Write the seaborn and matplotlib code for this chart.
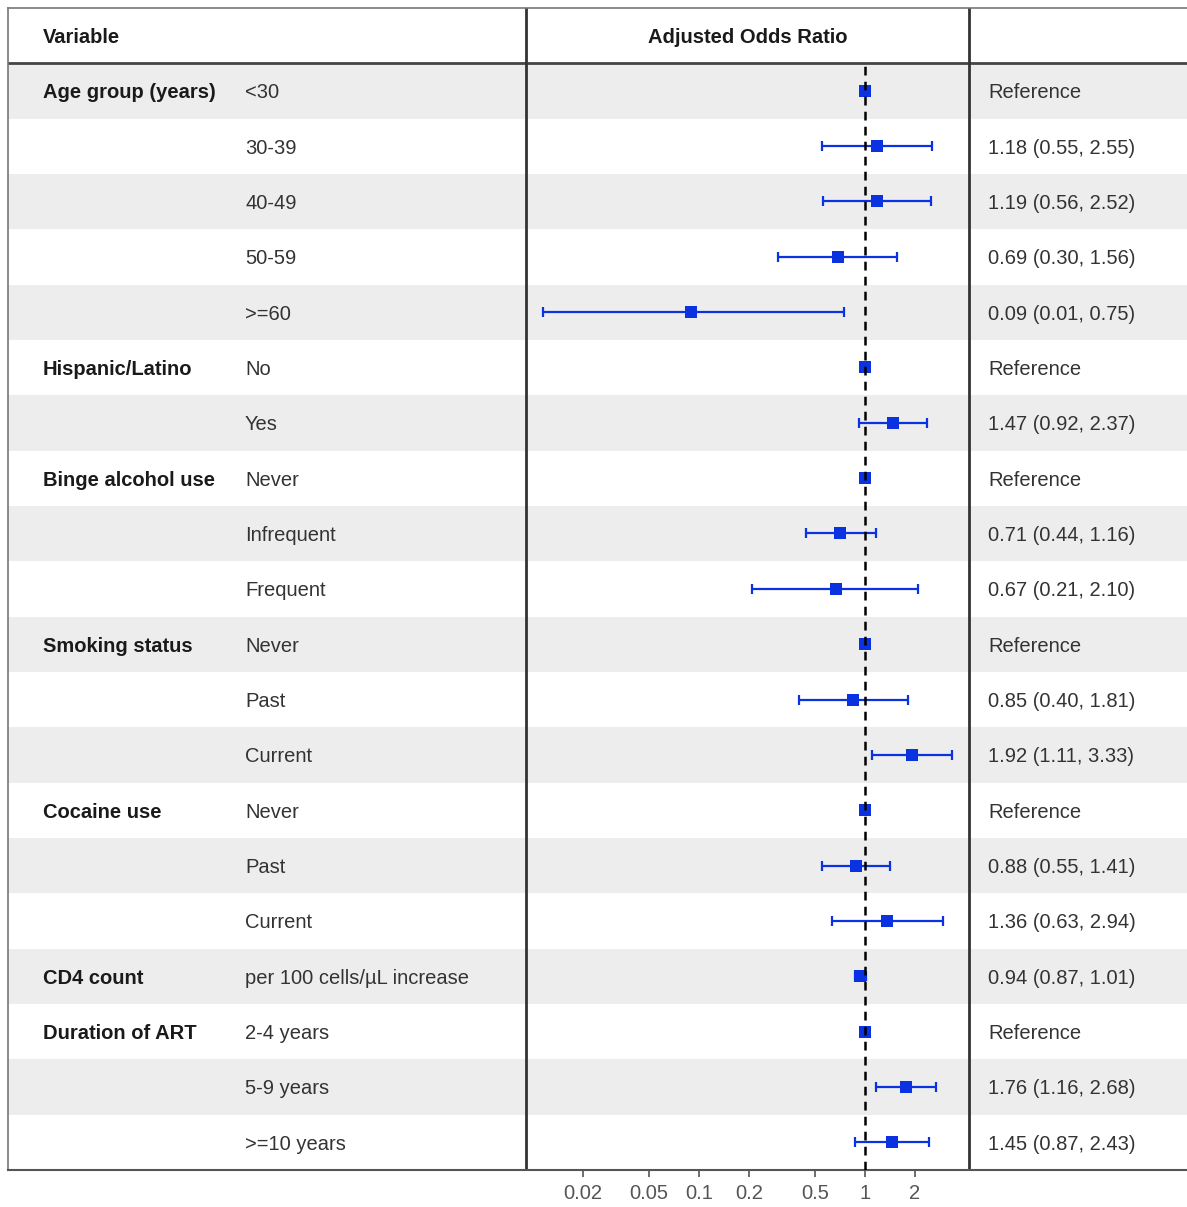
import numpy as np
import pandas as pd
import matplotlib.pyplot as plt
import seaborn as sns

# Data
groups = ['Age group (years)', '', '', '', '',
          'Hispanic/Latino', '',
          'Binge alcohol use', '', '',
          'Smoking status', '', '',
          'Cocaine use', '', '',
          'CD4 count',
          'Duration of ART', '', '']
levels = ['<30', '30-39', '40-49', '50-59', '>=60',
          'No', 'Yes',
          'Never', 'Infrequent', 'Frequent',
          'Never', 'Past', 'Current',
          'Never', 'Past', 'Current',
          'per 100 cells/\u00b5L increase',
          '2-4 years', '5-9 years', '>=10 years']
odds = [np.nan, 1.18, 1.19, 0.69, 0.09,
        np.nan, 1.47,
        np.nan, 0.71, 0.67,
        np.nan, 0.85, 1.92,
        np.nan, 0.88, 1.36,
        0.94,
        np.nan, 1.76, 1.45]
ci_low = [np.nan, 0.55, 0.56, 0.30, 0.0115,
          np.nan, 0.92,
          np.nan, 0.44, 0.21,
          np.nan, 0.40, 1.11,
          np.nan, 0.55, 0.63,
          0.87,
          np.nan, 1.16, 0.87]
ci_high = [np.nan, 2.55, 2.52, 1.56, 0.75,
           np.nan, 2.37,
           np.nan, 1.16, 2.10,
           np.nan, 1.81, 3.33,
           np.nan, 1.41, 2.94,
           1.01,
           np.nan, 2.68, 2.43]
x_ticks = [0.02, 0.05, 0.1, 0.2, 0.5, 1, 2]

df = pd.DataFrame({'group': groups, 'level': levels, 'or': odds,
                   'lo': ci_low, 'hi': ci_high})
df['row'] = np.arange(len(df))
df['is_ref'] = df['or'].isna()
df['point'] = df['or'].fillna(1.0)
df['label'] = [
    'Reference' if r else '{:.2f} ({:.2f}, {:.2f})'.format(o, l, h)
    for r, o, l, h in zip(df['is_ref'], df['or'], df['lo'], df['hi'])
]

sns.set_style('white')
plt.rcParams['font.family'] = ['Liberation Sans', 'DejaVu Sans']
fs = 14.5
blue = '#0A32E0'
txt = '#1a1a1a'

W, H = 1187, 1207
fig = plt.figure(figsize=(W / 100, H / 100), dpi=100)

n = len(df)
top_px, head_px, bot_px = 8, 63, 1170
left_px, mid1_px, mid2_px = 8, 526, 969

# background table axes (x in pixel-like units, y in rows)
bg = fig.add_axes([left_px / W, (H - bot_px) / H, (W - left_px) / W, (bot_px - top_px) / H])
bg.set_xlim(left_px, W)
bg.set_ylim(n - 0.5, -1.5)
for i in range(0, n, 2):
    bg.axhspan(i - 0.5, i + 0.5, color='#EDEDED', lw=0)
for s in ['left', 'top']:
    bg.spines[s].set_color('#777777')
    bg.spines[s].set_linewidth(1.2)
bg.spines['right'].set_visible(False)
bg.spines['bottom'].set_color('#555555')
bg.spines['bottom'].set_linewidth(1.5)
bg.set_xticks([])
bg.set_yticks([])
bg.axhline(-0.5, color='#444444', lw=2)
for xv in [mid1_px, mid2_px]:
    bg.axvline(xv, color='#333333', lw=2)

va = 'center_baseline'
bg.text(43, -1, 'Variable', fontsize=fs, fontweight='bold', color=txt, va=va)
bg.text((mid1_px + mid2_px) / 2, -1, 'Adjusted Odds Ratio', fontsize=fs,
        fontweight='bold', color=txt, va=va, ha='center')
for _, r in df.iterrows():
    if r['group']:
        bg.text(43, r['row'], r['group'], fontsize=fs, fontweight='bold',
                color=txt, va=va)
    bg.text(245, r['row'], r['level'], fontsize=fs, color='#333333', va=va)
    bg.text(988, r['row'], r['label'], fontsize=fs, color='#333333', va=va)

# forest axes
ax = fig.add_axes([mid1_px / W, (H - bot_px) / H, (mid2_px - mid1_px) / W,
                   (bot_px - head_px) / H])
ax.patch.set_alpha(0)
ax.set_xscale('log')

est = df[~df['is_ref']]
ax.errorbar(est['or'], est['row'],
            xerr=[est['or'] - est['lo'], est['hi'] - est['or']],
            fmt='none', ecolor=blue, elinewidth=1.6, capsize=3.5, capthick=1.6,
            zorder=2)
sns.scatterplot(data=df, x='point', y='row', marker='s', s=80, color=blue,
                edgecolor=blue, linewidth=0, ax=ax, zorder=3)
ax.axvline(1, color='black', ls=(0, (3.5, 2.5)), lw=1.8, zorder=4)

ax.set_xlim(0.0091, 4.24)
ax.set_ylim(n - 0.5, -0.5)
ax.set_xticks(x_ticks)
ax.set_xticklabels([('%g' % t) for t in x_ticks])
ax.minorticks_off()
ax.set_yticks([])
ax.set_xlabel('')
ax.set_ylabel('')
for s in ax.spines.values():
    s.set_visible(False)
ax.tick_params(axis='x', bottom=True, length=5, width=1.2, color='#555555',
               labelsize=fs, labelcolor='#555555', pad=5)

fig.savefig('out.png', dpi=100)
